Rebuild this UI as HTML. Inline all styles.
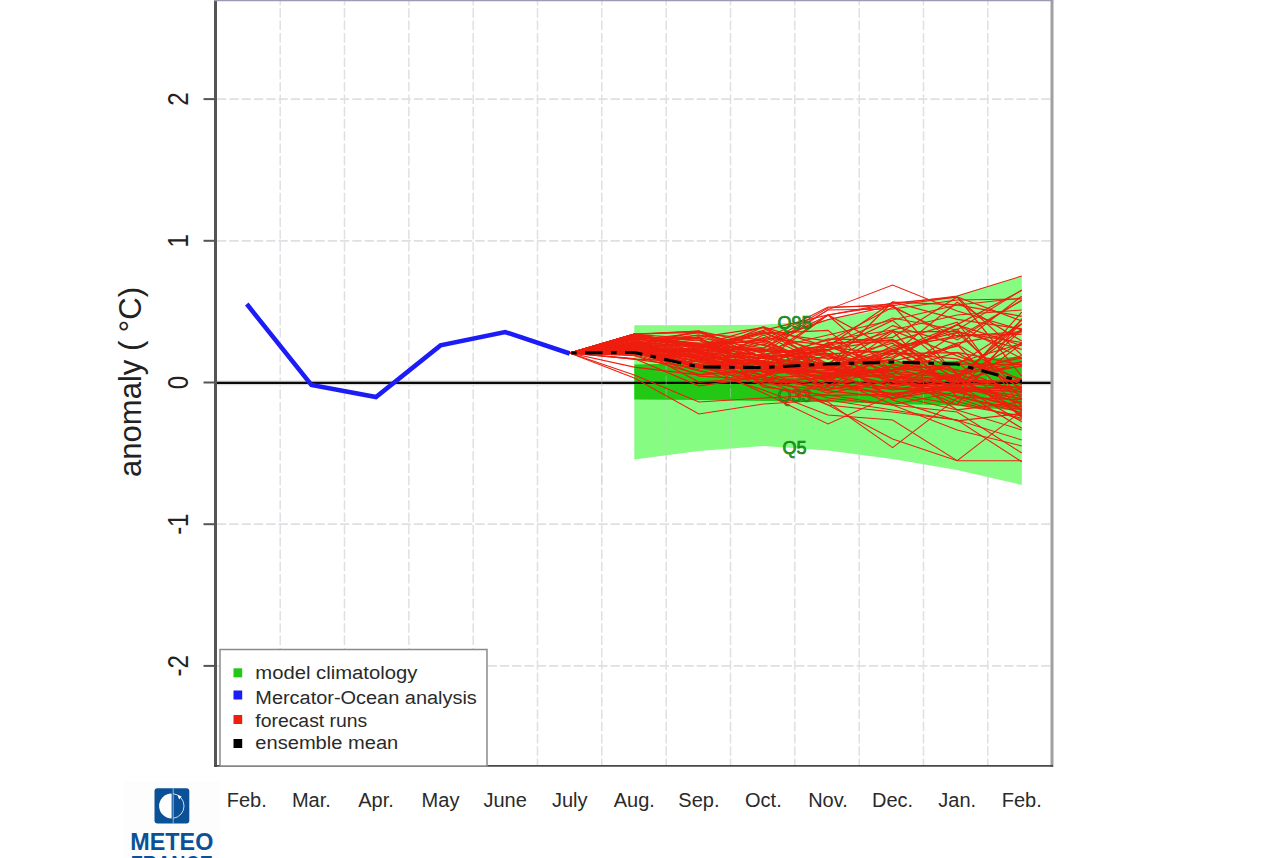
<!DOCTYPE html>
<html><head><meta charset="utf-8"><title>SST anomaly</title>
<style>html,body{margin:0;padding:0;background:#fff;width:1287px;height:858px;overflow:hidden}svg{display:block}</style>
</head><body>
<svg width="1287" height="858" viewBox="0 0 1287 858" font-family="Liberation Sans, Arial, sans-serif"><line x1="217" y1="99.1" x2="1051" y2="99.1" stroke="#e0e0e4" stroke-width="1.7" stroke-dasharray="9.3,3"/>
<line x1="217" y1="240.8" x2="1051" y2="240.8" stroke="#e0e0e4" stroke-width="1.7" stroke-dasharray="9.3,3"/>
<line x1="217" y1="524.2" x2="1051" y2="524.2" stroke="#e0e0e4" stroke-width="1.7" stroke-dasharray="9.3,3"/>
<line x1="217" y1="665.9" x2="1051" y2="665.9" stroke="#e0e0e4" stroke-width="1.7" stroke-dasharray="9.3,3"/>
<line x1="216" y1="382.9" x2="1051" y2="382.9" stroke="#dcdcdc" stroke-width="4.6"/>
<line x1="280.2" y1="1" x2="280.2" y2="765" stroke="#e0e0e4" stroke-width="1.5" stroke-dasharray="9.5,2.8" stroke-dashoffset="5"/>
<line x1="344.5" y1="1" x2="344.5" y2="765" stroke="#e0e0e4" stroke-width="1.5" stroke-dasharray="9.5,2.8" stroke-dashoffset="5"/>
<line x1="408.9" y1="1" x2="408.9" y2="765" stroke="#e0e0e4" stroke-width="1.5" stroke-dasharray="9.5,2.8" stroke-dashoffset="5"/>
<line x1="473.2" y1="1" x2="473.2" y2="765" stroke="#e0e0e4" stroke-width="1.5" stroke-dasharray="9.5,2.8" stroke-dashoffset="5"/>
<line x1="537.5" y1="1" x2="537.5" y2="765" stroke="#e0e0e4" stroke-width="1.5" stroke-dasharray="9.5,2.8" stroke-dashoffset="5"/>
<line x1="601.8" y1="1" x2="601.8" y2="765" stroke="#e0e0e4" stroke-width="1.5" stroke-dasharray="9.5,2.8" stroke-dashoffset="5"/>
<line x1="666.2" y1="1" x2="666.2" y2="765" stroke="#e0e0e4" stroke-width="1.5" stroke-dasharray="9.5,2.8" stroke-dashoffset="5"/>
<line x1="730.5" y1="1" x2="730.5" y2="765" stroke="#e0e0e4" stroke-width="1.5" stroke-dasharray="9.5,2.8" stroke-dashoffset="5"/>
<line x1="794.8" y1="1" x2="794.8" y2="765" stroke="#e0e0e4" stroke-width="1.5" stroke-dasharray="9.5,2.8" stroke-dashoffset="5"/>
<line x1="859.2" y1="1" x2="859.2" y2="765" stroke="#e0e0e4" stroke-width="1.5" stroke-dasharray="9.5,2.8" stroke-dashoffset="5"/>
<line x1="923.5" y1="1" x2="923.5" y2="765" stroke="#e0e0e4" stroke-width="1.5" stroke-dasharray="9.5,2.8" stroke-dashoffset="5"/>
<line x1="987.8" y1="1" x2="987.8" y2="765" stroke="#e0e0e4" stroke-width="1.5" stroke-dasharray="9.5,2.8" stroke-dashoffset="5"/>
<polygon points="634.3,325.2 698.9,325.2 763.4,324.8 828.0,320.0 892.6,307.5 957.2,295.5 1021.8,275.8 1021.8,485.0 957.2,470.0 892.6,459.0 828.0,450.5 763.4,446.0 698.9,451.0 634.3,459.5" fill="#86fc82"/>
<polygon points="634.3,364.6 698.9,363.0 763.4,362.0 828.0,362.0 892.6,361.5 957.2,360.8 1021.8,356.6 1021.8,411.0 957.2,405.5 892.6,404.0 828.0,402.0 763.4,401.0 698.9,400.0 634.3,399.5" fill="#22c814"/>
<line x1="216" y1="382.9" x2="1051" y2="382.9" stroke="#0a0a0a" stroke-width="2.1"/>
<line x1="601.8" y1="270" x2="601.8" y2="490" stroke="#c8c8d0" stroke-width="1" stroke-dasharray="9.5,2.8" stroke-dashoffset="5" opacity="0.45"/>
<line x1="666.2" y1="270" x2="666.2" y2="490" stroke="#c8c8d0" stroke-width="1" stroke-dasharray="9.5,2.8" stroke-dashoffset="5" opacity="0.45"/>
<line x1="730.5" y1="270" x2="730.5" y2="490" stroke="#c8c8d0" stroke-width="1" stroke-dasharray="9.5,2.8" stroke-dashoffset="5" opacity="0.45"/>
<line x1="794.8" y1="270" x2="794.8" y2="490" stroke="#c8c8d0" stroke-width="1" stroke-dasharray="9.5,2.8" stroke-dashoffset="5" opacity="0.45"/>
<line x1="859.2" y1="270" x2="859.2" y2="490" stroke="#c8c8d0" stroke-width="1" stroke-dasharray="9.5,2.8" stroke-dashoffset="5" opacity="0.45"/>
<line x1="923.5" y1="270" x2="923.5" y2="490" stroke="#c8c8d0" stroke-width="1" stroke-dasharray="9.5,2.8" stroke-dashoffset="5" opacity="0.45"/>
<line x1="987.8" y1="270" x2="987.8" y2="490" stroke="#c8c8d0" stroke-width="1" stroke-dasharray="9.5,2.8" stroke-dashoffset="5" opacity="0.45"/>
<text x="794.5" y="369" font-size="18" fill="#1ea81e" stroke="#157a15" stroke-width="0.7" text-anchor="middle">Q67</text>
<text x="794.5" y="402" font-size="18" fill="#1ea81e" stroke="#157a15" stroke-width="0.7" text-anchor="middle">Q33</text>
<polyline points="569.7,353.0 634.3,334.2 698.9,352.6 763.4,369.6 828.0,363.5 892.6,325.6 957.2,344.6 1021.8,382.1" fill="none" stroke="#ee1e0e" stroke-width="1.20" stroke-linejoin="miter"/>
<polyline points="569.7,353.0 634.3,352.6 698.9,349.1 763.4,331.7 828.0,363.8 892.6,375.0 957.2,401.5 1021.8,418.3" fill="none" stroke="#ee1e0e" stroke-width="1.20" stroke-linejoin="miter"/>
<polyline points="569.7,353.0 634.3,345.0 698.9,352.5 763.4,383.9 828.0,376.8 892.6,358.6 957.2,324.6 1021.8,358.7" fill="none" stroke="#ee1e0e" stroke-width="1.20" stroke-linejoin="miter"/>
<polyline points="569.7,353.0 634.3,346.9 698.9,353.5 763.4,358.3 828.0,368.1 892.6,379.9 957.2,397.1 1021.8,399.7" fill="none" stroke="#ee1e0e" stroke-width="1.20" stroke-linejoin="miter"/>
<polyline points="569.7,353.0 634.3,334.0 698.9,352.5 763.4,331.7 828.0,341.2 892.6,307.3 957.2,336.5 1021.8,331.5" fill="none" stroke="#ee1e0e" stroke-width="1.20" stroke-linejoin="miter"/>
<polyline points="569.7,353.0 634.3,347.3 698.9,382.1 763.4,377.2 828.0,385.8 892.6,353.7 957.2,352.7 1021.8,388.2" fill="none" stroke="#ee1e0e" stroke-width="1.20" stroke-linejoin="miter"/>
<polyline points="569.7,353.0 634.3,345.1 698.9,359.3 763.4,364.4 828.0,343.5 892.6,370.8 957.2,344.8 1021.8,410.9" fill="none" stroke="#ee1e0e" stroke-width="1.20" stroke-linejoin="miter"/>
<polyline points="569.7,353.0 634.3,341.2 698.9,359.9 763.4,363.8 828.0,378.4 892.6,366.6 957.2,388.2 1021.8,387.3" fill="none" stroke="#ee1e0e" stroke-width="1.20" stroke-linejoin="miter"/>
<polyline points="569.7,353.0 634.3,353.6 698.9,366.9 763.4,369.5 828.0,356.5 892.6,377.1 957.2,384.8 1021.8,421.7" fill="none" stroke="#ee1e0e" stroke-width="1.20" stroke-linejoin="miter"/>
<polyline points="569.7,353.0 634.3,342.4 698.9,359.5 763.4,368.2 828.0,373.3 892.6,376.2 957.2,379.5 1021.8,365.5" fill="none" stroke="#ee1e0e" stroke-width="1.20" stroke-linejoin="miter"/>
<polyline points="569.7,353.0 634.3,336.3 698.9,343.7 763.4,362.9 828.0,384.4 892.6,393.5 957.2,404.6 1021.8,415.9" fill="none" stroke="#ee1e0e" stroke-width="1.20" stroke-linejoin="miter"/>
<polyline points="569.7,353.0 634.3,350.2 698.9,361.3 763.4,371.7 828.0,393.2 892.6,380.5 957.2,361.8 1021.8,417.5" fill="none" stroke="#ee1e0e" stroke-width="1.20" stroke-linejoin="miter"/>
<polyline points="569.7,353.0 634.3,347.5 698.9,365.1 763.4,375.1 828.0,355.2 892.6,400.0 957.2,420.8 1021.8,413.4" fill="none" stroke="#ee1e0e" stroke-width="1.20" stroke-linejoin="miter"/>
<polyline points="569.7,353.0 634.3,350.5 698.9,361.1 763.4,350.4 828.0,355.4 892.6,371.3 957.2,392.3 1021.8,407.0" fill="none" stroke="#ee1e0e" stroke-width="1.20" stroke-linejoin="miter"/>
<polyline points="569.7,353.0 634.3,346.4 698.9,367.2 763.4,360.7 828.0,375.0 892.6,389.8 957.2,379.7 1021.8,320.1" fill="none" stroke="#ee1e0e" stroke-width="1.20" stroke-linejoin="miter"/>
<polyline points="569.7,353.0 634.3,337.3 698.9,353.1 763.4,365.5 828.0,386.6 892.6,364.8 957.2,369.6 1021.8,392.7" fill="none" stroke="#ee1e0e" stroke-width="1.20" stroke-linejoin="miter"/>
<polyline points="569.7,353.0 634.3,344.5 698.9,331.0 763.4,353.9 828.0,390.8 892.6,397.7 957.2,373.9 1021.8,366.3" fill="none" stroke="#ee1e0e" stroke-width="1.20" stroke-linejoin="miter"/>
<polyline points="569.7,353.0 634.3,347.3 698.9,376.2 763.4,379.6 828.0,378.7 892.6,398.3 957.2,388.3 1021.8,428.3" fill="none" stroke="#ee1e0e" stroke-width="1.20" stroke-linejoin="miter"/>
<polyline points="569.7,353.0 634.3,339.4 698.9,345.2 763.4,364.6 828.0,384.5 892.6,389.1 957.2,389.2 1021.8,329.8" fill="none" stroke="#ee1e0e" stroke-width="1.20" stroke-linejoin="miter"/>
<polyline points="569.7,353.0 634.3,339.2 698.9,343.2 763.4,342.0 828.0,366.8 892.6,359.4 957.2,382.7 1021.8,388.3" fill="none" stroke="#ee1e0e" stroke-width="1.20" stroke-linejoin="miter"/>
<polyline points="569.7,353.0 634.3,342.8 698.9,356.0 763.4,365.6 828.0,378.5 892.6,369.7 957.2,364.4 1021.8,323.8" fill="none" stroke="#ee1e0e" stroke-width="1.20" stroke-linejoin="miter"/>
<polyline points="569.7,353.0 634.3,355.6 698.9,374.4 763.4,371.2 828.0,366.3 892.6,330.5 957.2,355.9 1021.8,379.4" fill="none" stroke="#ee1e0e" stroke-width="1.20" stroke-linejoin="miter"/>
<polyline points="569.7,353.0 634.3,359.1 698.9,368.0 763.4,361.5 828.0,315.0 892.6,371.5 957.2,376.7 1021.8,323.8" fill="none" stroke="#ee1e0e" stroke-width="1.20" stroke-linejoin="miter"/>
<polyline points="569.7,353.0 634.3,347.1 698.9,336.7 763.4,386.9 828.0,395.3 892.6,394.3 957.2,384.4 1021.8,312.1" fill="none" stroke="#ee1e0e" stroke-width="1.20" stroke-linejoin="miter"/>
<polyline points="569.7,353.0 634.3,344.8 698.9,335.0 763.4,357.8 828.0,315.0 892.6,305.0 957.2,375.4 1021.8,416.0" fill="none" stroke="#ee1e0e" stroke-width="1.20" stroke-linejoin="miter"/>
<polyline points="569.7,353.0 634.3,334.7 698.9,331.0 763.4,357.6 828.0,374.7 892.6,349.5 957.2,335.5 1021.8,334.2" fill="none" stroke="#ee1e0e" stroke-width="1.20" stroke-linejoin="miter"/>
<polyline points="569.7,353.0 634.3,334.6 698.9,338.5 763.4,367.2 828.0,377.5 892.6,404.5 957.2,392.0 1021.8,389.4" fill="none" stroke="#ee1e0e" stroke-width="1.20" stroke-linejoin="miter"/>
<polyline points="569.7,353.0 634.3,336.6 698.9,347.7 763.4,330.3 828.0,315.0 892.6,349.9 957.2,391.2 1021.8,409.0" fill="none" stroke="#ee1e0e" stroke-width="1.20" stroke-linejoin="miter"/>
<polyline points="569.7,353.0 634.3,354.0 698.9,364.5 763.4,358.0 828.0,365.6 892.6,356.9 957.2,324.6 1021.8,290.3" fill="none" stroke="#ee1e0e" stroke-width="1.20" stroke-linejoin="miter"/>
<polyline points="569.7,353.0 634.3,334.0 698.9,345.4 763.4,356.6 828.0,350.2 892.6,384.7 957.2,384.5 1021.8,399.6" fill="none" stroke="#ee1e0e" stroke-width="1.20" stroke-linejoin="miter"/>
<polyline points="569.7,353.0 634.3,353.3 698.9,355.4 763.4,327.0 828.0,359.3 892.6,343.2 957.2,387.2 1021.8,396.2" fill="none" stroke="#ee1e0e" stroke-width="1.20" stroke-linejoin="miter"/>
<polyline points="569.7,353.0 634.3,352.0 698.9,366.8 763.4,335.0 828.0,366.2 892.6,348.0 957.2,332.4 1021.8,342.5" fill="none" stroke="#ee1e0e" stroke-width="1.20" stroke-linejoin="miter"/>
<polyline points="569.7,353.0 634.3,350.6 698.9,366.7 763.4,377.3 828.0,344.9 892.6,337.4 957.2,297.0 1021.8,321.0" fill="none" stroke="#ee1e0e" stroke-width="1.20" stroke-linejoin="miter"/>
<polyline points="569.7,353.0 634.3,349.6 698.9,351.4 763.4,362.3 828.0,368.9 892.6,384.8 957.2,362.7 1021.8,343.4" fill="none" stroke="#ee1e0e" stroke-width="1.20" stroke-linejoin="miter"/>
<polyline points="569.7,353.0 634.3,338.7 698.9,366.6 763.4,377.9 828.0,374.9 892.6,377.4 957.2,379.0 1021.8,388.5" fill="none" stroke="#ee1e0e" stroke-width="1.20" stroke-linejoin="miter"/>
<polyline points="569.7,353.0 634.3,344.0 698.9,350.9 763.4,333.6 828.0,330.4 892.6,382.4 957.2,389.2 1021.8,391.8" fill="none" stroke="#ee1e0e" stroke-width="1.20" stroke-linejoin="miter"/>
<polyline points="569.7,353.0 634.3,343.9 698.9,356.2 763.4,364.9 828.0,353.5 892.6,367.6 957.2,375.7 1021.8,355.5" fill="none" stroke="#ee1e0e" stroke-width="1.20" stroke-linejoin="miter"/>
<polyline points="569.7,353.0 634.3,338.4 698.9,337.3 763.4,327.7 828.0,365.9 892.6,302.0 957.2,319.3 1021.8,328.9" fill="none" stroke="#ee1e0e" stroke-width="1.20" stroke-linejoin="miter"/>
<polyline points="569.7,353.0 634.3,340.0 698.9,353.5 763.4,371.1 828.0,372.8 892.6,371.1 957.2,352.4 1021.8,364.8" fill="none" stroke="#ee1e0e" stroke-width="1.20" stroke-linejoin="miter"/>
<polyline points="569.7,353.0 634.3,351.5 698.9,358.0 763.4,341.3 828.0,319.6 892.6,305.7 957.2,297.0 1021.8,376.2" fill="none" stroke="#ee1e0e" stroke-width="1.20" stroke-linejoin="miter"/>
<polyline points="569.7,353.0 634.3,348.1 698.9,356.6 763.4,375.2 828.0,366.8 892.6,380.0 957.2,392.2 1021.8,343.7" fill="none" stroke="#ee1e0e" stroke-width="1.20" stroke-linejoin="miter"/>
<polyline points="569.7,353.0 634.3,334.0 698.9,332.3 763.4,361.9 828.0,381.3 892.6,350.7 957.2,384.8 1021.8,379.8" fill="none" stroke="#ee1e0e" stroke-width="1.20" stroke-linejoin="miter"/>
<polyline points="569.7,353.0 634.3,342.2 698.9,346.5 763.4,348.4 828.0,315.0 892.6,303.2 957.2,297.0 1021.8,355.1" fill="none" stroke="#ee1e0e" stroke-width="1.20" stroke-linejoin="miter"/>
<polyline points="569.7,353.0 634.3,358.5 698.9,385.8 763.4,376.9 828.0,342.7 892.6,341.9 957.2,322.2 1021.8,406.8" fill="none" stroke="#ee1e0e" stroke-width="1.20" stroke-linejoin="miter"/>
<polyline points="569.7,353.0 634.3,349.4 698.9,351.6 763.4,368.7 828.0,376.7 892.6,332.0 957.2,331.3 1021.8,349.4" fill="none" stroke="#ee1e0e" stroke-width="1.20" stroke-linejoin="miter"/>
<polyline points="569.7,353.0 634.3,346.1 698.9,358.0 763.4,356.9 828.0,366.7 892.6,351.4 957.2,329.2 1021.8,399.1" fill="none" stroke="#ee1e0e" stroke-width="1.20" stroke-linejoin="miter"/>
<polyline points="569.7,353.0 634.3,348.2 698.9,361.7 763.4,337.7 828.0,345.4 892.6,374.8 957.2,332.6 1021.8,391.5" fill="none" stroke="#ee1e0e" stroke-width="1.20" stroke-linejoin="miter"/>
<polyline points="569.7,353.0 634.3,342.3 698.9,358.3 763.4,361.2 828.0,368.3 892.6,387.2 957.2,376.2 1021.8,414.8" fill="none" stroke="#ee1e0e" stroke-width="1.20" stroke-linejoin="miter"/>
<polyline points="569.7,353.0 634.3,338.5 698.9,338.3 763.4,362.2 828.0,338.8 892.6,340.7 957.2,379.7 1021.8,409.7" fill="none" stroke="#ee1e0e" stroke-width="1.20" stroke-linejoin="miter"/>
<polyline points="569.7,353.0 634.3,334.0 698.9,350.0 763.4,376.8 828.0,389.7 892.6,379.7 957.2,364.0 1021.8,364.5" fill="none" stroke="#ee1e0e" stroke-width="1.20" stroke-linejoin="miter"/>
<polyline points="569.7,353.0 634.3,334.9 698.9,344.4 763.4,349.5 828.0,353.9 892.6,382.2 957.2,376.1 1021.8,328.9" fill="none" stroke="#ee1e0e" stroke-width="1.20" stroke-linejoin="miter"/>
<polyline points="569.7,353.0 634.3,352.3 698.9,350.7 763.4,349.0 828.0,353.8 892.6,350.7 957.2,324.9 1021.8,345.7" fill="none" stroke="#ee1e0e" stroke-width="1.20" stroke-linejoin="miter"/>
<polyline points="569.7,353.0 634.3,359.1 698.9,361.8 763.4,363.7 828.0,380.4 892.6,387.9 957.2,396.3 1021.8,412.6" fill="none" stroke="#ee1e0e" stroke-width="1.20" stroke-linejoin="miter"/>
<polyline points="569.7,353.0 634.3,334.0 698.9,331.0 763.4,345.3 828.0,366.7 892.6,387.5 957.2,391.1 1021.8,386.8" fill="none" stroke="#ee1e0e" stroke-width="1.20" stroke-linejoin="miter"/>
<polyline points="569.7,353.0 634.3,346.2 698.9,354.5 763.4,363.4 828.0,374.9 892.6,369.5 957.2,343.1 1021.8,332.0" fill="none" stroke="#ee1e0e" stroke-width="1.20" stroke-linejoin="miter"/>
<polyline points="569.7,353.0 634.3,352.6 698.9,371.0 763.4,379.8 828.0,387.6 892.6,393.4 957.2,386.7 1021.8,402.7" fill="none" stroke="#ee1e0e" stroke-width="1.20" stroke-linejoin="miter"/>
<polyline points="569.7,353.0 634.3,335.9 698.9,346.0 763.4,340.2 828.0,367.9 892.6,353.2 957.2,358.9 1021.8,384.6" fill="none" stroke="#ee1e0e" stroke-width="1.20" stroke-linejoin="miter"/>
<polyline points="569.7,353.0 634.3,354.1 698.9,356.9 763.4,343.9 828.0,370.1 892.6,339.6 957.2,371.5 1021.8,357.9" fill="none" stroke="#ee1e0e" stroke-width="1.20" stroke-linejoin="miter"/>
<polyline points="569.7,353.0 634.3,345.0 698.9,331.6 763.4,357.6 828.0,350.2 892.6,331.0 957.2,396.9 1021.8,409.9" fill="none" stroke="#ee1e0e" stroke-width="1.20" stroke-linejoin="miter"/>
<polyline points="569.7,353.0 634.3,367.1 698.9,374.8 763.4,369.9 828.0,372.4 892.6,395.2 957.2,387.4 1021.8,398.7" fill="none" stroke="#ee1e0e" stroke-width="1.20" stroke-linejoin="miter"/>
<polyline points="569.7,353.0 634.3,349.1 698.9,348.7 763.4,358.6 828.0,350.8 892.6,320.4 957.2,373.7 1021.8,394.8" fill="none" stroke="#ee1e0e" stroke-width="1.20" stroke-linejoin="miter"/>
<polyline points="569.7,353.0 634.3,346.4 698.9,345.3 763.4,327.0 828.0,347.1 892.6,354.4 957.2,302.3 1021.8,341.0" fill="none" stroke="#ee1e0e" stroke-width="1.20" stroke-linejoin="miter"/>
<polyline points="569.7,353.0 634.3,334.0 698.9,344.8 763.4,356.1 828.0,368.4 892.6,373.4 957.2,377.6 1021.8,342.7" fill="none" stroke="#ee1e0e" stroke-width="1.20" stroke-linejoin="miter"/>
<polyline points="569.7,353.0 634.3,342.3 698.9,347.1 763.4,350.5 828.0,365.2 892.6,377.4 957.2,404.7 1021.8,318.7" fill="none" stroke="#ee1e0e" stroke-width="1.20" stroke-linejoin="miter"/>
<polyline points="569.7,353.0 634.3,348.4 698.9,357.2 763.4,382.9 828.0,390.6 892.6,349.7 957.2,373.6 1021.8,361.9" fill="none" stroke="#ee1e0e" stroke-width="1.20" stroke-linejoin="miter"/>
<polyline points="569.7,353.0 634.3,352.0 698.9,350.5 763.4,355.4 828.0,358.2 892.6,361.2 957.2,346.2 1021.8,296.1" fill="none" stroke="#ee1e0e" stroke-width="1.20" stroke-linejoin="miter"/>
<polyline points="569.7,353.0 634.3,348.8 698.9,366.3 763.4,367.1 828.0,347.1 892.6,363.8 957.2,380.2 1021.8,381.4" fill="none" stroke="#ee1e0e" stroke-width="1.20" stroke-linejoin="miter"/>
<polyline points="569.7,353.0 634.3,345.9 698.9,367.3 763.4,354.0 828.0,346.3 892.6,302.0 957.2,304.9 1021.8,316.4" fill="none" stroke="#ee1e0e" stroke-width="1.20" stroke-linejoin="miter"/>
<polyline points="569.7,353.0 634.3,336.8 698.9,340.1 763.4,372.7 828.0,370.6 892.6,370.1 957.2,409.8 1021.8,401.8" fill="none" stroke="#ee1e0e" stroke-width="1.20" stroke-linejoin="miter"/>
<polyline points="569.7,353.0 634.3,334.0 698.9,348.9 763.4,338.3 828.0,378.1 892.6,345.8 957.2,337.5 1021.8,300.4" fill="none" stroke="#ee1e0e" stroke-width="1.20" stroke-linejoin="miter"/>
<polyline points="569.7,353.0 634.3,346.6 698.9,344.0 763.4,351.6 828.0,349.3 892.6,339.4 957.2,380.0 1021.8,404.2" fill="none" stroke="#ee1e0e" stroke-width="1.20" stroke-linejoin="miter"/>
<polyline points="569.7,353.0 634.3,346.4 698.9,345.3 763.4,333.2 828.0,353.6 892.6,399.0 957.2,382.4 1021.8,361.8" fill="none" stroke="#ee1e0e" stroke-width="1.20" stroke-linejoin="miter"/>
<polyline points="569.7,353.0 634.3,345.0 698.9,340.0 763.4,353.0 828.0,309.6 892.6,285.0 957.2,311.0 1021.8,330.0" fill="none" stroke="#ee1e0e" stroke-width="1.02" stroke-linejoin="miter"/>
<polyline points="569.7,353.0 634.3,342.0 698.9,335.0 763.4,345.0 828.0,308.0 892.6,304.0 957.2,296.0 1021.8,276.0" fill="none" stroke="#ee1e0e" stroke-width="1.02" stroke-linejoin="miter"/>
<polyline points="569.7,353.0 634.3,340.0 698.9,333.0 763.4,340.0 828.0,307.0 892.6,306.0 957.2,340.0 1021.8,300.0" fill="none" stroke="#ee1e0e" stroke-width="1.02" stroke-linejoin="miter"/>
<polyline points="569.7,353.0 634.3,343.0 698.9,338.0 763.4,348.0 828.0,310.0 892.6,309.0 957.2,300.0 1021.8,299.0" fill="none" stroke="#ee1e0e" stroke-width="1.02" stroke-linejoin="miter"/>
<polyline points="569.7,353.0 634.3,352.0 698.9,364.0 763.4,393.0 828.0,424.0 892.6,395.0 957.2,410.0 1021.8,430.0" fill="none" stroke="#ee1e0e" stroke-width="1.02" stroke-linejoin="miter"/>
<polyline points="569.7,353.0 634.3,350.0 698.9,366.0 763.4,385.0 828.0,402.0 892.6,447.7 957.2,398.0 1021.8,420.0" fill="none" stroke="#ee1e0e" stroke-width="1.02" stroke-linejoin="miter"/>
<polyline points="569.7,353.0 634.3,348.0 698.9,360.0 763.4,372.0 828.0,405.0 892.6,439.0 957.2,460.7 1021.8,460.7" fill="none" stroke="#ee1e0e" stroke-width="1.02" stroke-linejoin="miter"/>
<polyline points="569.7,353.0 634.3,355.0 698.9,370.0 763.4,390.0 828.0,415.0 892.6,420.0 957.2,460.7 1021.8,411.0" fill="none" stroke="#ee1e0e" stroke-width="1.02" stroke-linejoin="miter"/>
<polyline points="569.7,353.0 634.3,352.0 698.9,368.0 763.4,380.0 828.0,405.0 892.6,412.0 957.2,420.0 1021.8,461.8" fill="none" stroke="#ee1e0e" stroke-width="1.02" stroke-linejoin="miter"/>
<polyline points="569.7,353.0 634.3,350.0 698.9,362.0 763.4,378.0 828.0,398.0 892.6,405.0 957.2,412.0 1021.8,453.0" fill="none" stroke="#ee1e0e" stroke-width="1.02" stroke-linejoin="miter"/>
<polyline points="569.7,353.0 634.3,378.0 698.9,414.0 763.4,404.0 828.0,400.0 892.6,410.0 957.2,420.0 1021.8,440.0" fill="none" stroke="#ee1e0e" stroke-width="1.02" stroke-linejoin="miter"/>
<polyline points="569.7,353.0 634.3,375.0 698.9,402.0 763.4,398.0 828.0,395.0 892.6,405.0 957.2,430.0 1021.8,446.0" fill="none" stroke="#ee1e0e" stroke-width="1.02" stroke-linejoin="miter"/>
<polyline points="569.7,353.0 634.3,345.0 698.9,350.0 763.4,350.0 828.0,335.0 892.6,320.0 957.2,305.0 1021.8,298.0" fill="none" stroke="#ee1e0e" stroke-width="1.02" stroke-linejoin="miter"/>
<polyline points="569.7,353.0 634.3,348.0 698.9,355.0 763.4,358.0 828.0,340.0 892.6,330.0 957.2,315.0 1021.8,310.0" fill="none" stroke="#ee1e0e" stroke-width="1.02" stroke-linejoin="miter"/>
<polyline points="569.7,353.0 634.3,346.0 698.9,352.0 763.4,355.0 828.0,345.0 892.6,318.0 957.2,330.0 1021.8,290.0" fill="none" stroke="#ee1e0e" stroke-width="1.02" stroke-linejoin="miter"/>
<text x="794.5" y="329" font-size="18" fill="#1ea81e" stroke="#157a15" stroke-width="0.7" text-anchor="middle">Q95</text>
<text x="794.5" y="454" font-size="18" fill="#1ea81e" stroke="#157a15" stroke-width="0.7" text-anchor="middle">Q5</text>
<polyline points="246.8,304.0 311.4,385.0 376.0,397.0 440.5,345.4 505.1,332.0 569.7,353.5" fill="none" stroke="#1c1cf6" stroke-width="4.5" stroke-linejoin="miter"/>
<polyline points="569.7,353.0 634.3,352.5 698.9,367.0 763.4,367.5 828.0,364.0 892.6,362.0 957.2,364.0 1021.8,381.5" fill="none" stroke="#000" stroke-width="3.1" stroke-dasharray="17.5,8.4,5.6,8.4" stroke-dashoffset="24.5"/>
<line x1="215.5" y1="0" x2="215.5" y2="767" stroke="#555" stroke-width="3"/>
<line x1="1052" y1="0" x2="1052" y2="767" stroke="#a0a0a0" stroke-width="3"/>
<line x1="214" y1="765.8" x2="1053" y2="765.8" stroke="#484848" stroke-width="1.8"/>
<line x1="214" y1="0.5" x2="1053" y2="0.5" stroke="#9c9ab0" stroke-width="1.5"/>
<line x1="203.5" y1="99.1" x2="215" y2="99.1" stroke="#555" stroke-width="2"/>
<text transform="translate(188,99.1) rotate(-90) scale(1,1.25)" font-size="24" text-anchor="middle" fill="#222">2</text>
<line x1="203.5" y1="240.8" x2="215" y2="240.8" stroke="#555" stroke-width="2"/>
<text transform="translate(188,240.8) rotate(-90) scale(1,1.25)" font-size="24" text-anchor="middle" fill="#222">1</text>
<line x1="203.5" y1="382.5" x2="215" y2="382.5" stroke="#555" stroke-width="2"/>
<text transform="translate(188,382.5) rotate(-90) scale(1,1.25)" font-size="24" text-anchor="middle" fill="#222">0</text>
<line x1="203.5" y1="524.2" x2="215" y2="524.2" stroke="#555" stroke-width="2"/>
<text transform="translate(188,524.2) rotate(-90) scale(1,1.25)" font-size="24" text-anchor="middle" fill="#222">-1</text>
<line x1="203.5" y1="665.9" x2="215" y2="665.9" stroke="#555" stroke-width="2"/>
<text transform="translate(188,665.9) rotate(-90) scale(1,1.25)" font-size="24" text-anchor="middle" fill="#222">-2</text>
<text transform="translate(140.6,382) rotate(-90) scale(1,1.22)" font-size="25" text-anchor="middle" fill="#222" textLength="190" lengthAdjust="spacingAndGlyphs">anomaly ( °C)</text>
<text x="246.8" y="807" font-size="20" text-anchor="middle" fill="#2a2a2a">Feb.</text>
<text x="311.4" y="807" font-size="20" text-anchor="middle" fill="#2a2a2a">Mar.</text>
<text x="376.0" y="807" font-size="20" text-anchor="middle" fill="#2a2a2a">Apr.</text>
<text x="440.5" y="807" font-size="20" text-anchor="middle" fill="#2a2a2a">May</text>
<text x="505.1" y="807" font-size="20" text-anchor="middle" fill="#2a2a2a">June</text>
<text x="569.7" y="807" font-size="20" text-anchor="middle" fill="#2a2a2a">July</text>
<text x="634.3" y="807" font-size="20" text-anchor="middle" fill="#2a2a2a">Aug.</text>
<text x="698.9" y="807" font-size="20" text-anchor="middle" fill="#2a2a2a">Sep.</text>
<text x="763.4" y="807" font-size="20" text-anchor="middle" fill="#2a2a2a">Oct.</text>
<text x="828.0" y="807" font-size="20" text-anchor="middle" fill="#2a2a2a">Nov.</text>
<text x="892.6" y="807" font-size="20" text-anchor="middle" fill="#2a2a2a">Dec.</text>
<text x="957.2" y="807" font-size="20" text-anchor="middle" fill="#2a2a2a">Jan.</text>
<text x="1021.8" y="807" font-size="20" text-anchor="middle" fill="#2a2a2a">Feb.</text>
<rect x="220" y="649.5" width="267" height="116.5" fill="#fff" stroke="#8a8a8a" stroke-width="1.5"/>
<rect x="233.5" y="668.3" width="8.7" height="9" fill="#22c814"/>
<text x="255.3" y="679.2" font-size="18" fill="#2a2a2a" textLength="162" lengthAdjust="spacingAndGlyphs">model climatology</text>
<rect x="233.5" y="690.5" width="8.7" height="9" fill="#1c1cf6"/>
<text x="255.3" y="704.2" font-size="18" fill="#2a2a2a" textLength="221.5" lengthAdjust="spacingAndGlyphs">Mercator-Ocean analysis</text>
<rect x="233.5" y="715" width="8.7" height="9" fill="#ee1e0e"/>
<text x="255.3" y="727" font-size="18" fill="#2a2a2a" textLength="112" lengthAdjust="spacingAndGlyphs">forecast runs</text>
<rect x="233.5" y="739" width="8.7" height="9" fill="#000"/>
<text x="255.3" y="748.8" font-size="18" fill="#2a2a2a" textLength="143" lengthAdjust="spacingAndGlyphs">ensemble mean</text>

<rect x="123" y="781" width="97" height="77" fill="#fdfdfd"/>
<rect x="154.5" y="788.3" width="34.8" height="35.2" rx="3" fill="#0b5198"/>
<path d="M171.6,793.6 A12.5,12.4 0 0 0 171.6,818.4 Z" fill="#fff"/>
<path d="M173.2,793.7 A12.4,12.4 0 0 1 173.2,818.3" fill="none" stroke="#e4ecf6" stroke-width="0.9"/>
<line x1="173.2" y1="788.3" x2="173.2" y2="823.5" stroke="#b8cce4" stroke-width="0.8"/>
<path d="M177.5,794.8 l4.2,1.6 l-2.6,3 z" fill="#fff"/>
<text x="171.8" y="849.5" font-size="23" font-weight="bold" text-anchor="middle" fill="#0b5198" textLength="83" lengthAdjust="spacingAndGlyphs">METEO</text>
<text x="171.8" y="873" font-size="23" font-weight="bold" text-anchor="middle" fill="#0b5198" textLength="82" lengthAdjust="spacingAndGlyphs">FRANCE</text>
</svg>
</body></html>
